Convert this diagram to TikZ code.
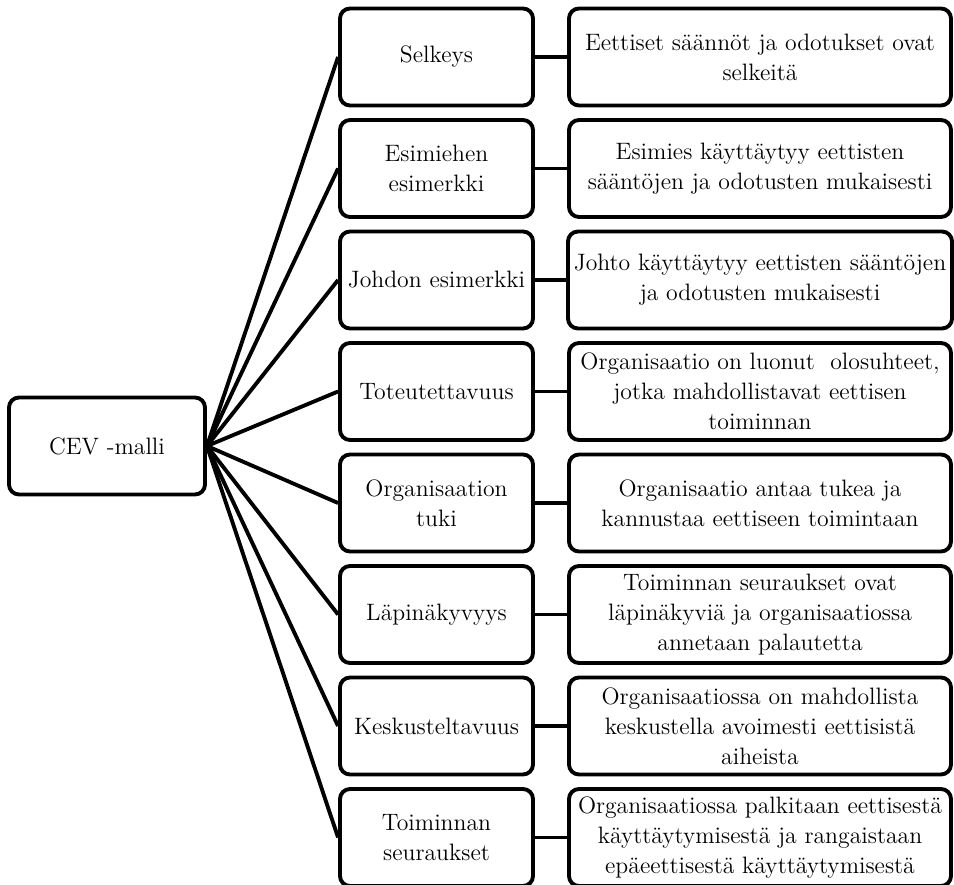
\documentclass[tikz,border=0pt]{standalone}
\usepackage{tikz}
\usetikzlibrary{positioning}

\tikzset{
    box/.style={draw, line width=2.2pt, rounded corners=0.2cm, align=center,
        font=\fontsize{13.5}{17}\selectfont},
    aspect/.style={box, minimum width=3.86cm, minimum height=1.94cm},
    desc/.style={box, minimum width=7.64cm, minimum height=1.94cm}
}

\begin{document}
\begin{tikzpicture}[%
        node distance=2.23cm,
        on grid,
        line width=2.2pt
        ]
        \useasboundingbox (0,0) rectangle (19.08,-17.7);

        \node[box, minimum width=3.92cm, minimum height=1.94cm] (cev) at (2.14,-8.92) {CEV -malli};

        \node[aspect] (a1) at (8.73,-1.14) {Selkeys};
        \node[aspect] (a2) [below=of a1] {Esimiehen\\esimerkki};
        \node[aspect] (a3) [below=of a2] {Johdon esimerkki};
        \node[aspect] (a4) [below=of a3] {Toteutettavuus};
        \node[aspect] (a5) [below=of a4] {Organisaation\\tuki};
        \node[aspect] (a6) [below=of a5] {Läpinäkyvyys};
        \node[aspect] (a7) [below=of a6] {Keskusteltavuus};
        \node[aspect] (a8) [below=of a7] {Toiminnan\\seuraukset};

        \node[desc] (d1) [right=6.47cm of a1] {Eettiset säännöt ja odotukset ovat\\selkeitä};
        \node[desc] (d2) [right=6.47cm of a2] {Esimies käyttäytyy eettisten\\sääntöjen ja odotusten mukaisesti};
        \node[desc] (d3) [right=6.47cm of a3] {Johto käyttäytyy eettisten sääntöjen\\ja odotusten mukaisesti};
        \node[desc] (d4) [right=6.47cm of a4] {Organisaatio on luonut\ \ olosuhteet,\\jotka mahdollistavat eettisen\\toiminnan};
        \node[desc] (d5) [right=6.47cm of a5] {Organisaatio antaa tukea ja\\kannustaa eettiseen toimintaan};
        \node[desc] (d6) [right=6.47cm of a6] {Toiminnan seuraukset ovat\\läpinäkyviä ja organisaatiossa\\annetaan palautetta};
        \node[desc] (d7) [right=6.47cm of a7] {Organisaatiossa on mahdollista\\keskustella avoimesti eettisistä\\aiheista};
        \node[desc] (d8) [right=6.47cm of a8] {Organisaatiossa palkitaan eettisestä\\käyttäytymisestä ja rangaistaan\\epäeettisestä käyttäytymisestä};

        \path (cev.east) edge (a1.west);
        \path (cev.east) edge (a2.west);
        \path (cev.east) edge (a3.west);
        \path (cev.east) edge (a4.west);
        \path (cev.east) edge (a5.west);
        \path (cev.east) edge (a6.west);
        \path (cev.east) edge (a7.west);
        \path (cev.east) edge (a8.west);

        \path (a1) edge (d1);
        \path (a2) edge (d2);
        \path (a3) edge (d3);
        \path (a4) edge (d4);
        \path (a5) edge (d5);
        \path (a6) edge (d6);
        \path (a7) edge (d7);
        \path (a8) edge (d8);

    \end{tikzpicture}
\end{document}
